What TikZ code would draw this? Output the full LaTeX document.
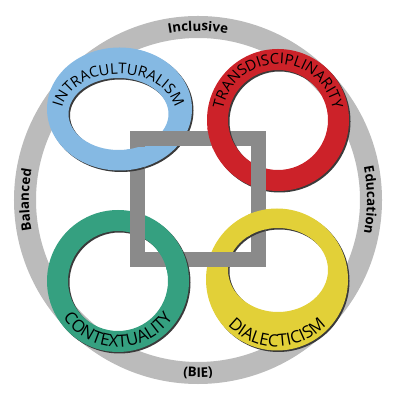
\documentclass[tikz,border=0pt]{standalone}
\usepackage{fontspec}
\setmainfont{Open Sans}
\usetikzlibrary{decorations.text}
\definecolor{bandgray}{HTML}{BBBBBB}
\definecolor{squaregray}{HTML}{8A8A8A}
\definecolor{intrablue}{HTML}{85B9E3}
\definecolor{transred}{HTML}{CC2229}
\definecolor{contextgreen}{HTML}{35A080}
\definecolor{dialyellow}{HTML}{E2D038}
\definecolor{linkshade}{HTML}{3A3A3A}
\tikzset{
    %Define style for the outer band
    band/.style={
           draw=bandgray,
           line width=0.55cm},
    %Define styles for the links
    link/.style={
           fill=#1,
           even odd rule},
    linkshadow/.style={
           fill=linkshade,
           even odd rule},
    loop/.style={x radius=71, y radius=71},
    hole/.style={x radius=50, y radius=50},
    flatloop/.style={x radius=72.5, y radius=61.5},
    flathole/.style={x radius=50, y radius=36},
    lowhole/.style={x radius=50, y radius=42},
    frame/.style={
           draw=squaregray,
           line width=0.375cm,
           line join=miter},
    % Define text styles
    bandtext/.style={
           decorate,
           decoration={text along path, text align=center,
                       text={|\fontsize{9.5}{11}\selectfont\bfseries|#1}}},
    linktext/.style 2 args={
           decorate,
           decoration={text along path, text align=center,
                       text={|\fontsize{#1}{14}\selectfont|#2}}}
}
% ring with its drop shadow: centre, outer radii, hole centre, hole radii, colour
\newcommand{\drawlink}[5]{%
    \fill[linkshadow] ([shift={(1.5,-1.5)}]#1) ellipse[#2]
                      ([shift={(1.5,-1.5)}]#3) ellipse[#4];
    \fill[link=#5] (#1) ellipse[#2] (#3) ellipse[#4];}
% the same ring again, only inside a window (shadow window, colour window)
\newcommand{\relink}[7]{%
    \begin{scope}
      \clip #6;
      \fill[linkshadow] ([shift={(1.5,-1.5)}]#1) ellipse[#2]
                        ([shift={(1.5,-1.5)}]#3) ellipse[#4];
    \end{scope}
    \begin{scope}
      \clip #7;
      \fill[link=#5] (#1) ellipse[#2] (#3) ellipse[#4];
    \end{scope}}

\begin{document}
\begin{tikzpicture}[x=0.025cm, y=0.025cm]
    \useasboundingbox (0,0) rectangle (400,400);
 %centres
    \coordinate (hub) at (198,200);
    \coordinate (intra) at (119.5,291);
    \coordinate (intrahole) at (118.5,286);
    \coordinate (trans) at (278,280);
    \coordinate (context) at (118,119);
    \coordinate (dialect) at (277,120.5);
    \coordinate (dialecthole) at (278,130);
    \coordinate (sqlow) at (137,140);
    \coordinate (sqhigh) at (258,261);
 %outer band
    \draw[band] (hub) circle[radius=173];
    \path[bandtext=Inclusive] (hub) ++(120:169) arc[start angle=120, end angle=60, radius=169];
    \path[bandtext=Education] (hub) ++(30:169) arc[start angle=30, end angle=-30, radius=169];
    \path[bandtext=Balanced] (hub) ++(210:169) arc[start angle=210, end angle=150, radius=169];
    \path[bandtext=(BIE)] (hub) ++(250:177) arc[start angle=250, end angle=290, radius=177];
 %links
    \drawlink{intra}{flatloop}{intrahole}{flathole}{intrablue}
    \drawlink{trans}{loop}{trans}{hole}{transred}
    \drawlink{context}{loop}{context}{hole}{contextgreen}
    \drawlink{dialect}{loop}{dialecthole}{lowhole}{dialyellow}
    \path[linktext={10.5}{INTRACULTURALISM}] (intrahole) ++(200:57 and 40) arc[start angle=200, end angle=-20, x radius=57, y radius=40];
    \path[linktext={10.6}{TRANSDISCIPLINARITY}] (trans) ++(200:56) arc[start angle=200, end angle=-20, radius=56];
    \path[linktext={12}{CONTEXTUALITY}] (context) ++(160:66) arc[start angle=160, end angle=380, radius=66];
    \path[linktext={12}{DIALECTICISM}] (dialect) ++(160:67) arc[start angle=160, end angle=380, radius=67];
 %square
    \draw[frame] (sqlow) rectangle (sqhigh);
 %crossings where the link lies on top
    \relink{intra}{flatloop}{intrahole}{flathole}{intrablue}
           {(129.5,200) rectangle (144.5,252.5)}{(127,200) rectangle (147,252.5)}
    \relink{trans}{loop}{trans}{hole}{transred}
           {(195,253.5) rectangle (249,268.5)}{(195,251) rectangle (249,271)}
    \relink{dialect}{loop}{dialecthole}{lowhole}{dialyellow}
           {(250.5,147.5) rectangle (265.5,200)}{(248,147.5) rectangle (268,200)}
    \relink{context}{loop}{context}{hole}{contextgreen}
           {(150,132.5) rectangle (249,147.5)}{(150,130) rectangle (249,150)}
\end{tikzpicture}
\end{document}
